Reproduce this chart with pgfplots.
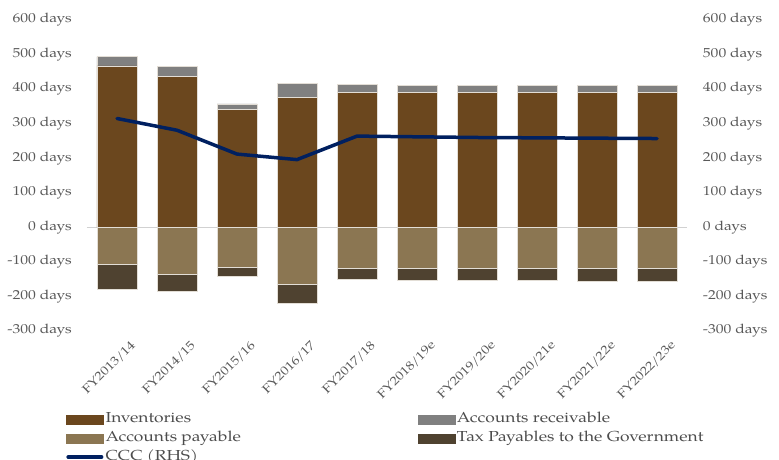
\documentclass[border=0pt]{standalone}
\usepackage{pgfplots}
\pgfplotsset{compat=1.18}
\usepackage{fontspec}
\setmainfont{TeX Gyre Pagella}[FakeStretch=1.2]
\definecolor{inv}{HTML}{6B471E}
\definecolor{ar}{HTML}{808080}
\definecolor{ap}{HTML}{8B7652}
\definecolor{tax}{HTML}{4F4230}
\definecolor{ccc}{HTML}{002060}
\definecolor{txt}{HTML}{595959}
\definecolor{edge}{HTML}{E3DED6}
\pgfplotsset{
  base/.style={
    scale only axis, width=600pt, height=311pt,
    at={(0pt,0pt)}, anchor=south west,
    xmin=-0.5, xmax=9.5, ymin=-300, ymax=600,
    axis line style={draw=none},
    major tick length=0pt,
  },
}
\begin{document}
\begin{tikzpicture}
\useasboundingbox (-87pt,-128pt) rectangle (692pt,331pt);
% positive stack + left labels + legend
\begin{axis}[base,
  ybar stacked, bar width=40pt,
  xtick={0,...,9},
  xticklabels={FY2013/14,FY2014/15,FY2015/16,FY2016/17,FY2017/18,FY2018/19e,FY2019/20e,FY2020/21e,FY2021/22e,FY2022/23e},
  xticklabel style={rotate=45, anchor=north east, inner sep=0pt, xshift=3pt, yshift=-15pt,
    font=\fontsize{12.2}{14}\selectfont, text=txt},
  ytick={-300,-200,-100,0,100,200,300,400,500,600},
  yticklabels={-300 days,-200 days,-100 days,0 days,100 days,200 days,300 days,400 days,500 days,600 days},
  yticklabel style={anchor=east, inner sep=0pt, xshift=-15pt, font=\fontsize{13}{15}\selectfont, text=txt},
  extra y ticks={0}, extra y tick labels={},
  extra y tick style={grid=major, major grid style={draw=black!18, line width=0.8pt}},
  legend columns=2,
  legend cell align=left,
  legend style={at={(-0.035,-0.2605)}, anchor=north west, draw=none, fill=none,
    inner sep=0pt, row sep=5pt,
    font=\fontsize{14.5}{17}\selectfont, text=black!70,
    nodes={inner xsep=2pt, inner ysep=0pt, text height=10pt, text depth=4pt}},
]
\addlegendimage{legend image code/.code={\fill[inv] (0pt,-4.5pt) rectangle (37pt,4.5pt);}}
\addlegendentry{\makebox[310pt][l]{Inventories}}
\addlegendimage{legend image code/.code={\fill[ar] (0pt,-4.5pt) rectangle (37pt,4.5pt);}}
\addlegendentry{Accounts receivable}
\addlegendimage{legend image code/.code={\fill[ap] (0pt,-4.5pt) rectangle (37pt,4.5pt);}}
\addlegendentry{\makebox[310pt][l]{Accounts payable}}
\addlegendimage{legend image code/.code={\fill[tax] (0pt,-4.5pt) rectangle (37pt,4.5pt);}}
\addlegendentry{Tax Payables to the Government}
\addlegendimage{legend image code/.code={\draw[ccc, line width=3.5pt, line cap=round] (1.75pt,0pt) -- (35.25pt,0pt);}}
\addlegendentry{CCC (RHS)}
% Inventories
\addplot[fill=inv, draw=edge, line width=0.5pt, forget plot] coordinates {
  (0,467) (1,436) (2,341) (3,376) (4,390) (5,390) (6,390) (7,390) (8,390) (9,390)};
% Accounts receivable
\addplot[fill=ar, draw=edge, line width=0.5pt, forget plot] coordinates {
  (0,27) (1,29) (2,16) (3,40) (4,23) (5,20) (6,20) (7,20) (8,20) (9,20)};
\end{axis}
% negative stack
\begin{axis}[base, ybar stacked, bar width=40pt, xtick=\empty, ytick=\empty]
% Accounts payable
\addplot[fill=ap, draw=edge, line width=0.5pt] coordinates {
  (0,-107) (1,-137) (2,-115) (3,-164) (4,-118) (5,-118) (6,-118) (7,-118) (8,-118) (9,-118)};
% Tax payables
\addplot[fill=tax, draw=edge, line width=0.5pt] coordinates {
  (0,-73) (1,-48) (2,-27) (3,-57) (4,-31) (5,-35) (6,-35) (7,-35) (8,-39) (9,-39)};
\end{axis}
% CCC line on right axis
\begin{axis}[base, xtick=\empty,
  ytick={-300,-200,-100,0,100,200,300,400,500,600},
  yticklabels={-300 days,-200 days,-100 days,0 days,100 days,200 days,300 days,400 days,500 days,600 days},
  yticklabel pos=right,
  yticklabel style={anchor=west, inner sep=0pt, xshift=15.7pt, font=\fontsize{13}{15}\selectfont, text=txt},
]
\addplot[ccc, line width=3.5pt, line cap=round, line join=round, mark=none] coordinates {
  (0,315) (1,281) (2,212) (3,196) (4,264) (5,262) (6,260) (7,259) (8,258) (9,257)};
\end{axis}
\end{tikzpicture}
\end{document}
